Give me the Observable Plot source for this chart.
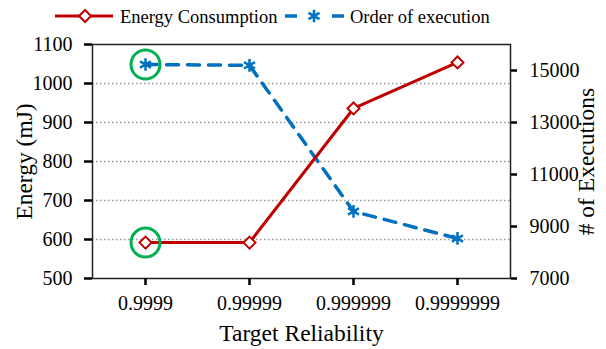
<!DOCTYPE html>
<html>
<head>
<meta charset="utf-8">
<script src="https://cdn.jsdelivr.net/npm/d3@7"></script>
<script src="https://cdn.jsdelivr.net/npm/@observablehq/plot@0.6"></script>
<style>
  html, body { margin: 0; padding: 0; background: white; }
  #wrap { position: relative; width: 606px; height: 349px; font-family: "Liberation Serif", serif; }
  #wrap svg text { font-family: "Liberation Serif", serif; }
</style>
</head>
<body>
<div id="wrap"></div>
<script>
const categories = ["0.9999", "0.99999", "0.999999", "0.9999999"];
const energy = [592, 592, 936, 1054];
const executions = [15230, 15200, 9580, 8540];
const energyTicks = [500, 600, 700, 800, 900, 1000, 1100];
const gridTicks = [600, 700, 800, 900, 1000];
const execTicks = [7000, 9000, 11000, 13000, 15000];
const execDomain = [7000, 16000];
const highlighted = ["0.9999"];
const seriesNames = ["Energy Consumption", "Order of execution"];

const RED = "#c00000", BLUE = "#0070c0", GREEN = "#00b050";
const FONT = "Liberation Serif";
const eDomain = [500, 1100];
const toY = v => eDomain[0] + (v - execDomain[0]) * (eDomain[1] - eDomain[0]) / (execDomain[1] - execDomain[0]);
const fromY = y => execDomain[0] + (y - eDomain[0]) * (execDomain[1] - execDomain[0]) / (eDomain[1] - eDomain[0]);

const energyData = categories.map((c, i) => ({c, v: energy[i]}));
const execData = categories.map((c, i) => ({c, v: toY(executions[i])}));
const hl = d => highlighted.includes(d.c);
const txt = {fontFamily: FONT, fontSize: 20};

const chart = Plot.plot({
  width: 606, height: 349,
  marginTop: 44, marginBottom: 71, marginLeft: 92, marginRight: 96,
  x: {type: "point", domain: categories, padding: 0.5},
  y: {domain: eDomain},
  style: {fontFamily: FONT, fontSize: "20px", color: "black", background: "white", overflow: "visible"},
  marks: [
    Plot.gridY(gridTicks, {stroke: "#999", strokeOpacity: 1, strokeWidth: 1.5, strokeDasharray: "1.5,2.5"}),
    Plot.frame({stroke: "#222", strokeWidth: 1.5}),
    Plot.axisY(energyTicks, {...txt, anchor: "left", tickSize: 8, tickPadding: 12, strokeWidth: 2.5, stroke: "black",
      tickFormat: d => String(d),
      label: "Energy (mJ)", labelAnchor: "center", labelArrow: "none", labelOffset: 77}),
    Plot.axisY(execTicks.map(toY), {...txt, anchor: "right", tickSize: 6, tickPadding: 13, strokeWidth: 2.5, stroke: "black",
      tickFormat: d => String(Math.round(fromY(d))),
      label: "# of Executions", labelAnchor: "center", labelArrow: "none", labelOffset: 83}),
    Plot.axisX(categories, {...txt, tickSize: 7, tickPadding: 10, strokeWidth: 2.5, stroke: "black",
      label: "Target Reliability", labelAnchor: "center", labelArrow: "none", labelOffset: 62}),
    Plot.line(execData, {x: "c", y: "v", stroke: BLUE, strokeWidth: 3.5, strokeDasharray: "12,9"}),
    Plot.line(energyData, {x: "c", y: "v", stroke: RED, strokeWidth: 3}),
    Plot.dot(energyData, {x: "c", y: "v", symbol: "diamond2", r: 5.4, stroke: RED, fill: "white", strokeWidth: 2}),
    Plot.dot(execData, {x: "c", y: "v", symbol: "asterisk", r: 6, stroke: BLUE, strokeWidth: 2.5}),
    Plot.dot(energyData.filter(hl), {x: "c", y: "v", r: 14.5, stroke: GREEN, strokeWidth: 3, fill: "none"}),
    Plot.dot(execData.filter(hl), {x: "c", y: "v", r: 14.5, stroke: GREEN, strokeWidth: 3, fill: "none"})
  ]
});

// Axis titles are a little larger than the tick labels
d3.select(chart).selectAll('[aria-label$="axis label"] text').attr("font-size", 23.5);

const wrap = document.getElementById("wrap");
wrap.appendChild(chart);

// Legend
const leg = d3.create("svg").attr("width", 606).attr("height", 34)
  .style("position", "absolute").style("left", "0px").style("top", "0px");
const g1 = leg.append("g");
g1.append("line").attr("x1", 55).attr("x2", 113).attr("y1", 16).attr("y2", 16).attr("stroke", RED).attr("stroke-width", 3);
g1.append("path").attr("d", d3.symbol(d3.symbolDiamond2, 92)()).attr("transform", "translate(85,16)")
  .attr("fill", "white").attr("stroke", RED).attr("stroke-width", 2);
g1.append("text").attr("x", 120).attr("y", 23).attr("font-family", FONT).attr("font-size", 18.5).text(seriesNames[0]);
const g2 = leg.append("g");
g2.append("line").attr("x1", 285).attr("x2", 297).attr("y1", 16).attr("y2", 16).attr("stroke", BLUE).attr("stroke-width", 3.5);
g2.append("line").attr("x1", 332).attr("x2", 344).attr("y1", 16).attr("y2", 16).attr("stroke", BLUE).attr("stroke-width", 3.5);
g2.append("path").attr("d", d3.symbol(d3.symbolAsterisk, 113)()).attr("transform", "translate(314,16)")
  .attr("fill", "none").attr("stroke", BLUE).attr("stroke-width", 2.5);
g2.append("text").attr("x", 350).attr("y", 23).attr("font-family", FONT).attr("font-size", 18.5).text(seriesNames[1]);
wrap.appendChild(leg.node());
</script>
</body>
</html>
